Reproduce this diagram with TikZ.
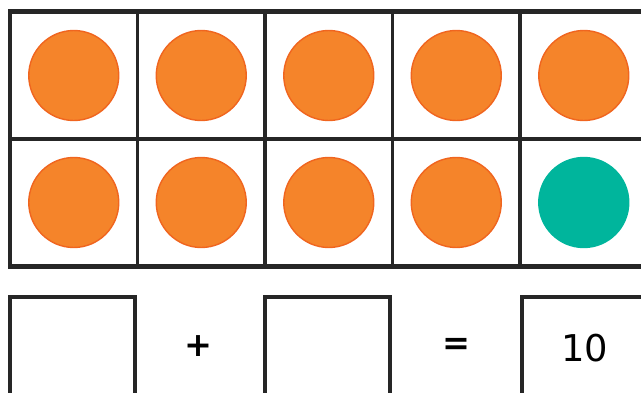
\documentclass[tikz,border=0pt]{standalone}
\usepackage{fontspec}
\setmainfont{DejaVu Sans}
\usepackage{xcolor}
\usetikzlibrary{positioning}
\definecolor{dotorange}{HTML}{F5842A}
\definecolor{dotedge}{HTML}{F0651F}
\definecolor{dotgreen}{HTML}{00B59C}
\definecolor{frameline}{HTML}{262626}

\begin{document}
\begin{tikzpicture}[
    x=0.02cm, y=-0.02cm,
    cell/.style={draw=frameline, line width=2pt, minimum size=2.55cm, inner sep=0pt, outer sep=0pt},
    dot/.style={circle, minimum size=1.8cm, inner sep=0pt, fill=dotorange, draw=dotedge, line width=0.8pt},
    greendot/.style={dot, fill=dotgreen, draw=dotgreen},
    answer/.style={draw=frameline, line width=2pt, minimum width=2.5cm, minimum height=2.04cm, inner sep=0pt, font=\fontsize{21}{25}\selectfont},
    sign/.style={font=\fontsize{19}{22}\selectfont\bfseries}
]
\useasboundingbox (0,0) rectangle (641,392);

% Ten frame
\foreach \r in {1,2} {
  \foreach \c in {1,...,5} {
    \node[cell] (cell-\r-\c) at ({10+127.5*(\c-0.5)}, {12+127*(\r-0.5)}) {};
  }
}
\draw[frameline, line width=2.6pt] (cell-1-1.north west) rectangle (cell-2-5.south east);

% Counters
\foreach \r/\c in {1/1,1/2,1/3,1/4,1/5,2/1,2/2,2/3,2/4} {
  \node[dot] (dot-\r-\c) at (cell-\r-\c) {};
}
\node[greendot] (dot-2-5) at (cell-2-5) {};

% Number sentence
\node[answer] (part1) at (72.5, 348) {};
\node[sign] (plus) at (198, 346) {+};
\node[answer] (part2) at (327.5, 348) {};
\node[sign] (equals) at (456, 346) {=};
\node[answer] (total) at (584.5, 348) {10};
\end{tikzpicture}
\end{document}
